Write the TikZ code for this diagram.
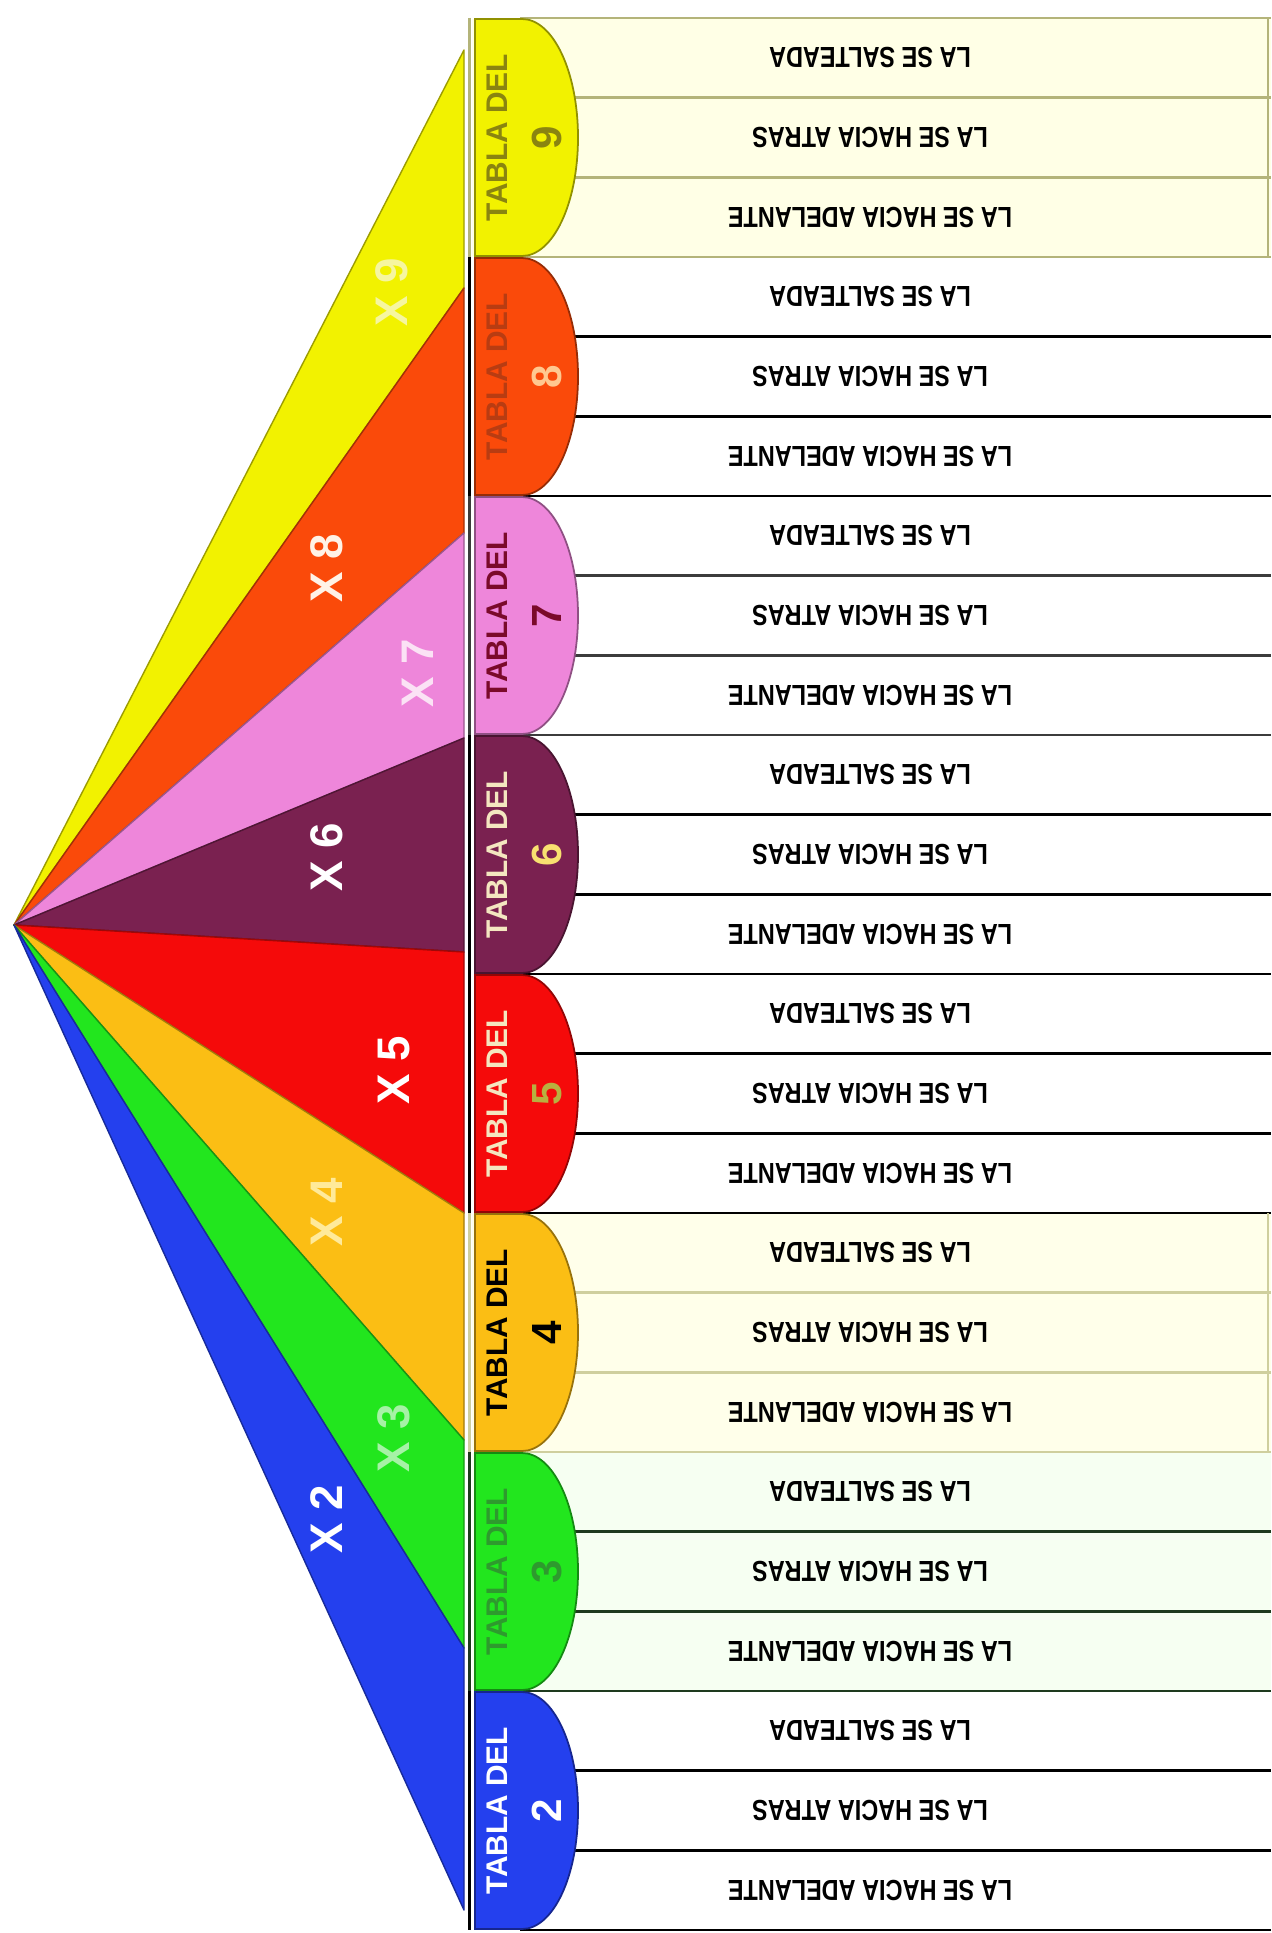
\documentclass[tikz,border=0pt]{standalone}
\usepackage{fontspec}
\setsansfont{Liberation Sans}

% colours of the eight tables
\definecolor{fill9}{HTML}{F2F200}\definecolor{fill8}{HTML}{FA4A0A}
\definecolor{fill7}{HTML}{EE86DA}\definecolor{fill6}{HTML}{7A2150}
\definecolor{fill5}{HTML}{F50A0A}\definecolor{fill4}{HTML}{FBBE14}
\definecolor{fill3}{HTML}{22E61E}\definecolor{fill2}{HTML}{2440EE}
\definecolor{mark9}{HTML}{F6F6A0}\definecolor{mark8}{HTML}{FFF2E6}
\definecolor{mark7}{HTML}{FBE2F5}\colorlet{mark6}{white}
\colorlet{mark5}{white}\definecolor{mark4}{HTML}{FFEA9A}
\definecolor{mark3}{HTML}{A6F2A6}\colorlet{mark2}{white}
\definecolor{line9}{HTML}{B4B47A}\colorlet{line8}{black}
\definecolor{line7}{HTML}{3C3C3C}\colorlet{line6}{black}
\colorlet{line5}{black}\definecolor{line4}{HTML}{CFCF9E}
\definecolor{line3}{HTML}{1E3A1E}\colorlet{line2}{black}
\definecolor{text9}{HTML}{8A8410}\definecolor{text8}{HTML}{B83C12}
\definecolor{text7}{HTML}{7A0A2A}\definecolor{text6}{HTML}{F4E6C0}
\definecolor{text5}{HTML}{F4E6C0}\colorlet{text4}{black}
\definecolor{text3}{HTML}{2E9A2E}\colorlet{text2}{white}
\definecolor{num9}{HTML}{8A8410}\definecolor{num8}{HTML}{FFC890}
\definecolor{num7}{HTML}{7A0A2A}\definecolor{num6}{HTML}{F8E070}
\definecolor{num5}{HTML}{B8B040}\colorlet{num4}{black}
\definecolor{num3}{HTML}{2E9A2E}\colorlet{num2}{white}
\definecolor{back9}{HTML}{FFFFE6}\colorlet{back8}{white}
\colorlet{back7}{white}\colorlet{back6}{white}
\colorlet{back5}{white}\definecolor{back4}{HTML}{FFFFEA}
\definecolor{back3}{HTML}{F6FFF2}\colorlet{back2}{white}

\tikzset{
  wedge/.style={line width=0.8pt,line join=round},
  timeslabel/.style={rotate=90,font=\sffamily\bfseries\fontsize{26}{28}\selectfont},
  rowline/.style={line width=1.6pt},
  divider/.style={line width=1.7pt},
  tabshape/.style={line width=1pt},
  tabtext/.style={rotate=90,font=\sffamily\bfseries\fontsize{17}{18}\selectfont},
  tabnum/.style={rotate=90,font=\sffamily\bfseries\fontsize{24}{26}\selectfont},
  rowtext/.style={rotate=180,xscale=0.81,font=\sffamily\bfseries\fontsize{16.5}{18}\selectfont}
}

\begin{document}
\begin{tikzpicture}[x=0.02cm,y=-0.02cm]
  \useasboundingbox[fill=white] (0,0) rectangle (1271,1933);
  \coordinate (apex) at (14,925);

  % The fan, one wedge for each table
  \foreach \n/\wt/\wb/\mx/\my in {9/50/288/392/292, 8/288/533/327/568,
      7/533/738/418/673, 6/738/952/327/857, 5/952/1213/394/1070,
      4/1213/1440/327/1212, 3/1440/1648/394/1438, 2/1648/1910/327/1519}
  {
    \filldraw[wedge,fill=fill\n,draw=fill\n!65!black] (apex) -- (464,\wt) -- (464,\wb) -- cycle;
    \node[timeslabel,text=mark\n] (times-\n) at (\mx,\my) {X \n};
  }

  % Rows, tabs and texts of each table
  \draw[rowline,draw=line9] (520,18) -- (1271,18);
  \foreach \n [count=\i from 0] in {9,8,7,6,5,4,3,2}
  {
    \pgfmathsetmacro{\gt}{18+239*\i}
    \pgfmathsetmacro{\gb}{\gt+239}
    \pgfmathsetmacro{\gm}{\gt+119.5}
    \fill[back\n] (472,{\gt+1}) rectangle (1271,{\gb-1});
    \foreach \k in {1,2,3}
      \draw[rowline,draw=line\n] (520,{\gt+\k*79.67}) -- (1271,{\gt+\k*79.67});
    \draw[divider,draw=line\n] (469,\gt) -- (469,\gb);
    \filldraw[tabshape,fill=fill\n,draw=fill\n!60!black] (475,\gt+1) -- (522,\gt+1)
      .. controls (553,\gt+1) and (578,\gm-66) .. (578,\gm)
      .. controls (578,\gm+66) and (553,\gb-1) .. (522,\gb-1) -- (475,\gb-1) -- cycle;
    \node[tabtext,text=text\n] (tab-\n) at (497,\gm) {TABLA DEL};
    \node[tabnum,text=num\n] (num-\n) at (547,\gm) {\n};
    \foreach \r/\txt in {0/LA SE SALTEADA, 1/LA SE HACIA ATRAS, 2/LA SE HACIA ADELANTE}
      \node[rowtext] (row-\n-\r) at (870,{\gt+(\r+0.5)*79.67}) {\txt};
  }
  \draw[line9,line width=1.2pt] (1268,18) -- (1268,257);
  \draw[line4,line width=1.2pt] (1268,1213) -- (1268,1452);
\end{tikzpicture}
\end{document}
